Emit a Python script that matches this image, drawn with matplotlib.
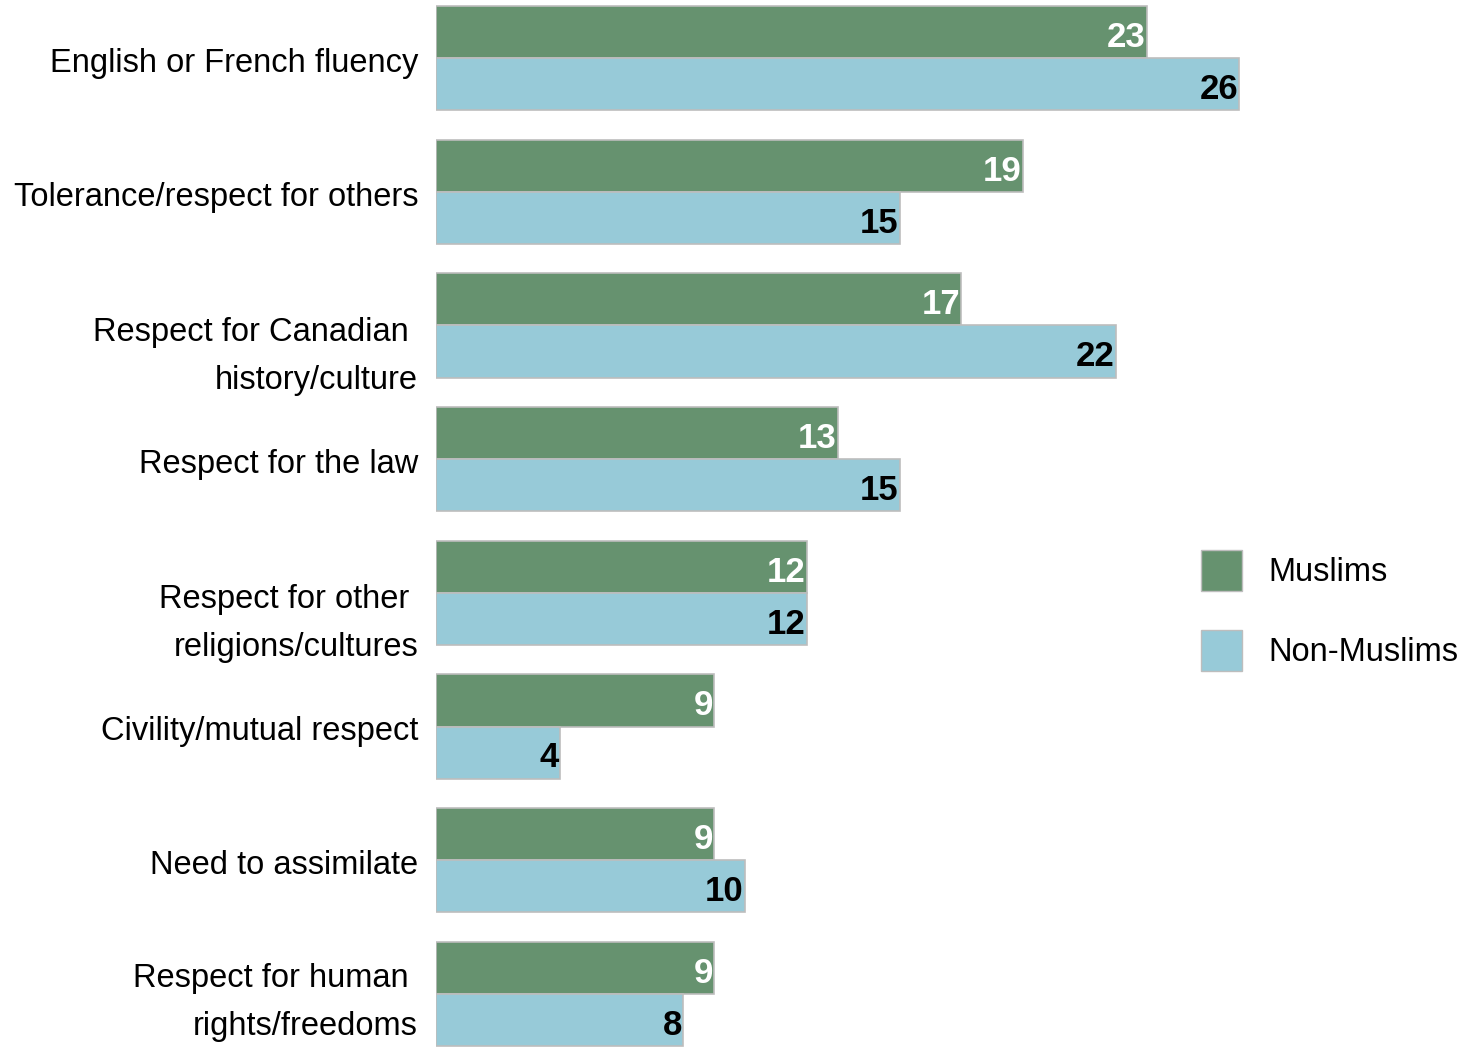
import matplotlib
matplotlib.use("Agg")
import matplotlib.pyplot as plt
from matplotlib.patches import Patch

plt.rcParams['font.family'] = ['Liberation Sans Narrow', 'Liberation Sans', 'DejaVu Sans']

# categories, top to bottom
categories = [
    "English or French fluency",
    "Tolerance/respect for others",
    "Respect for Canadian \nhistory/culture",
    "Respect for the law",
    "Respect for other \nreligions/cultures",
    "Civility/mutual respect",
    "Need to assimilate",
    "Respect for human \nrights/freedoms",
]
muslims = [23, 19, 17, 13, 12, 9, 9, 9]
non_muslims = [26, 15, 22, 15, 12, 4, 10, 8]

green = "#66926f"
blue = "#97cad8"
edge = "#bdbdbd"

W, H = 1464, 1048
fig = plt.figure(figsize=(W / 100, H / 100), dpi=100)
left = 436 / W
ax = fig.add_axes([left, 0, 1 - left, 1])

bh = 0.39
ypos = list(range(len(categories)))
ax.barh([y - bh / 2 for y in ypos], muslims, height=bh, color=green,
        edgecolor=edge, linewidth=1.2)
ax.barh([y + bh / 2 for y in ypos], non_muslims, height=bh, color=blue,
        edgecolor=edge, linewidth=1.2)

ybot = 7.405
ax.set_xlim(0, (W - 436) / 30.9)
ax.set_ylim(ybot, -0.435)
ax.axis("off")

# value labels inside the bar ends
for y, m, n in zip(ypos, muslims, non_muslims):
    ax.text(m - 0.04, y - bh / 2 + 0.04, str(m), ha="right", va="center",
            color="white", fontsize=25, fontweight="bold")
    ax.text(n - 0.04, y + bh / 2 + 0.04, str(n), ha="right", va="center",
            color="black", fontsize=25, fontweight="bold")

# category labels, two-line ones sit a bit lower (but stay inside the figure)
for y, lab in zip(ypos, categories):
    nl = lab.count("\n")
    ty = min(y + 0.04 + 0.19 * nl, ybot - 0.34)
    ax.text(-0.58, ty, lab, ha="right", va="center",
            fontsize=23.5, linespacing=1.7, clip_on=False)

handles = [Patch(facecolor=green, edgecolor=edge, label="Muslims"),
           Patch(facecolor=blue, edgecolor=edge, label="Non-Muslims")]
fig.legend(handles=handles, loc="upper left",
           bbox_to_anchor=(1201 / W, 1 - 550 / H), frameon=False,
           fontsize=23.5, handlelength=1.26, handleheight=1.55,
           handletextpad=0.8, labelspacing=1.2, borderpad=0, borderaxespad=0)

fig.savefig("out.png", dpi=100)
